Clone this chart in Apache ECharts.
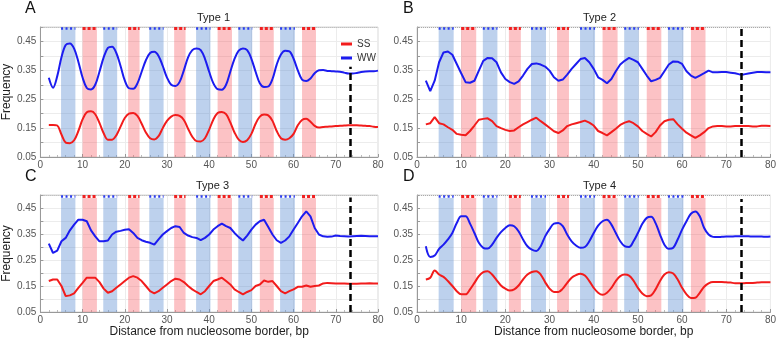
<!DOCTYPE html>
<html>
<head>
<meta charset="utf-8">
<script src="https://cdn.jsdelivr.net/npm/echarts@6/dist/echarts.min.js"></script>
<style>
  html, body { margin: 0; padding: 0; background: #fff; }
  #chart { width: 779px; height: 339px; }
</style>
</head>
<body>
<div id="chart"></div>
<script>
// positions along the sequence, bp
var xs = [];
for (var k = 2; k <= 80; k++) xs.push(k);

// Type 1
var wwA = [0.324,0.290,0.330,0.395,0.438,0.443,0.425,0.380,0.325,0.289,0.284,0.300,0.345,0.395,0.428,0.432,0.410,0.365,0.315,0.288,
  0.286,0.305,0.345,0.385,0.410,0.414,0.400,0.365,0.325,0.300,0.296,0.310,0.350,0.395,0.420,0.426,0.420,0.390,0.345,0.305,
  0.285,0.283,0.300,0.345,0.390,0.418,0.426,0.420,0.390,0.345,0.305,0.292,0.294,0.320,0.370,0.405,0.418,0.416,0.390,0.350,
  0.318,0.313,0.322,0.340,0.350,0.351,0.348,0.347,0.346,0.345,0.342,0.339,0.339,0.341,0.344,0.346,0.347,0.347,0.349];
var ssA = [0.161,0.161,0.159,0.128,0.100,0.098,0.108,0.140,0.180,0.205,0.208,0.198,0.168,0.132,0.110,0.110,0.125,0.155,0.185,0.200,
  0.202,0.192,0.165,0.135,0.115,0.111,0.122,0.150,0.175,0.190,0.195,0.192,0.178,0.148,0.120,0.105,0.104,0.115,0.145,0.180,
  0.202,0.206,0.198,0.170,0.135,0.110,0.102,0.108,0.130,0.165,0.190,0.197,0.194,0.175,0.140,0.115,0.110,0.115,0.130,0.160,
  0.178,0.182,0.172,0.158,0.152,0.154,0.155,0.156,0.157,0.158,0.159,0.160,0.160,0.160,0.159,0.158,0.157,0.155,0.154];

// Type 2
var wwB = [0.314,0.278,0.314,0.378,0.412,0.415,0.404,0.372,0.340,0.309,0.307,0.314,0.349,0.383,0.393,0.392,0.378,0.343,0.320,0.309,
  0.303,0.312,0.332,0.355,0.372,0.374,0.370,0.363,0.349,0.326,0.314,0.318,0.335,0.355,0.372,0.389,0.393,0.378,0.355,0.326,
  0.317,0.305,0.320,0.347,0.370,0.383,0.393,0.386,0.378,0.355,0.332,0.312,0.317,0.324,0.347,0.370,0.381,0.380,0.372,0.347,
  0.332,0.324,0.332,0.340,0.349,0.343,0.343,0.344,0.344,0.342,0.340,0.336,0.336,0.339,0.342,0.344,0.344,0.343,0.343];
var ssB = [0.163,0.167,0.188,0.167,0.163,0.153,0.144,0.130,0.127,0.125,0.140,0.159,0.179,0.182,0.184,0.174,0.157,0.150,0.144,0.140,
  0.142,0.153,0.163,0.171,0.179,0.186,0.174,0.163,0.151,0.139,0.133,0.142,0.157,0.163,0.167,0.171,0.176,0.169,0.159,0.140,
  0.133,0.125,0.136,0.148,0.161,0.169,0.174,0.167,0.156,0.140,0.130,0.121,0.136,0.159,0.174,0.179,0.181,0.163,0.148,0.134,
  0.125,0.116,0.125,0.136,0.150,0.156,0.157,0.157,0.156,0.156,0.157,0.157,0.157,0.157,0.156,0.156,0.158,0.158,0.157];

// Type 3
var wwC = [0.313,0.277,0.286,0.322,0.335,0.364,0.386,0.405,0.405,0.399,0.364,0.341,0.322,0.322,0.325,0.348,0.359,0.362,0.366,0.368,
  0.354,0.335,0.326,0.320,0.316,0.309,0.329,0.348,0.361,0.373,0.380,0.377,0.354,0.344,0.338,0.335,0.326,0.335,0.348,0.367,
  0.380,0.390,0.380,0.373,0.354,0.338,0.325,0.344,0.367,0.386,0.399,0.405,0.377,0.348,0.326,0.316,0.325,0.341,0.367,0.392,
  0.418,0.437,0.418,0.373,0.348,0.341,0.339,0.340,0.344,0.342,0.341,0.340,0.341,0.342,0.343,0.342,0.341,0.341,0.341];
var ssC = [0.169,0.175,0.175,0.150,0.111,0.114,0.122,0.143,0.162,0.182,0.182,0.182,0.165,0.140,0.124,0.130,0.143,0.156,0.169,0.182,
  0.188,0.182,0.169,0.150,0.130,0.122,0.130,0.143,0.156,0.169,0.178,0.175,0.165,0.150,0.137,0.127,0.118,0.130,0.150,0.169,
  0.175,0.182,0.169,0.156,0.137,0.127,0.118,0.127,0.134,0.150,0.156,0.171,0.166,0.169,0.150,0.130,0.122,0.130,0.137,0.147,
  0.147,0.152,0.147,0.150,0.152,0.160,0.162,0.161,0.160,0.160,0.160,0.159,0.159,0.159,0.160,0.160,0.161,0.160,0.160];

// Type 4
var wwD = [0.303,0.262,0.267,0.293,0.309,0.329,0.354,0.392,0.418,0.418,0.390,0.354,0.316,0.297,0.294,0.309,0.335,0.357,0.373,0.384,
  0.380,0.360,0.329,0.303,0.290,0.285,0.303,0.341,0.369,0.390,0.392,0.380,0.348,0.322,0.306,0.297,0.300,0.322,0.354,0.382,
  0.399,0.405,0.386,0.354,0.322,0.303,0.300,0.322,0.354,0.389,0.412,0.416,0.392,0.348,0.309,0.293,0.297,0.329,0.367,0.399,
  0.428,0.437,0.418,0.373,0.348,0.339,0.338,0.339,0.340,0.340,0.341,0.341,0.341,0.341,0.340,0.340,0.340,0.339,0.340];
var ssD = [0.175,0.182,0.210,0.194,0.185,0.169,0.150,0.130,0.118,0.118,0.137,0.162,0.188,0.203,0.207,0.194,0.173,0.152,0.140,0.133,
  0.137,0.152,0.175,0.194,0.204,0.207,0.194,0.165,0.140,0.127,0.127,0.140,0.162,0.182,0.192,0.197,0.190,0.169,0.143,0.124,
  0.116,0.124,0.143,0.169,0.188,0.194,0.190,0.171,0.143,0.121,0.111,0.114,0.137,0.169,0.194,0.203,0.198,0.175,0.143,0.118,
  0.104,0.105,0.124,0.147,0.160,0.165,0.165,0.165,0.164,0.163,0.161,0.161,0.161,0.162,0.162,0.163,0.164,0.164,0.164];

// WW-rich (blue) and SS-rich (red) stripes, bp
var blueBands = [[4.9, 8.3], [14.9, 18.2], [25.8, 29.2], [36.9, 40.3], [46.9, 50.2], [56.8, 60.3]];
var redBands = [[10.0, 13.4], [20.8, 23.5], [31.7, 34.4], [42.0, 45.4], [52.0, 55.3], [62.0, 65.3]];
var borderX = 73.5;

var RED = '#f21c1c', BLUE = '#1c1cf0';
var RED_BAND = 'rgba(245,80,90,0.35)', BLUE_BAND = 'rgba(90,140,210,0.4)';
var FONT = 'Liberation Sans, Arial, sans-serif';

var panels = [
  { letter: 'A', title: 'Type 1', ss: ssA, ww: wwA, grid: { left: 39, top: 27, width: 339, height: 130 }, smooth: 0.35, dashTop: 0.362, bandTop: 0.5, yName: true, xName: false },
  { letter: 'B', title: 'Type 2', ss: ssB, ww: wwB, grid: { left: 417, top: 27, width: 355, height: 130 }, smooth: false, dashTop: 0.5, bandTop: 0.5, yName: false, xName: false },
  { letter: 'C', title: 'Type 3', ss: ssC, ww: wwC, grid: { left: 37, top: 195, width: 341, height: 118 }, smooth: false, dashTop: 0.49, bandTop: 0.488, yName: true, xName: true },
  { letter: 'D', title: 'Type 4', ss: ssD, ww: wwD, grid: { left: 417, top: 195, width: 355, height: 118 }, smooth: 0.35, dashTop: 0.485, bandTop: 0.488, yName: false, xName: true }
];

function pairs(vals) {
  return xs.map(function (x, i) { return [x, vals[i]]; });
}

var grids = [], xAxes = [], yAxes = [], series = [], titles = [], graphics = [];

panels.forEach(function (p, i) {
  grids.push({ left: p.grid.left, top: p.grid.top, width: p.grid.width, height: p.grid.height,
    show: true, borderColor: '#d8d8d8', borderWidth: 1 });

  xAxes.push({
    gridIndex: i, type: 'value', min: 0, max: 80, interval: 10,
    name: p.xName ? 'Distance from nucleosome border, bp' : '',
    nameLocation: 'middle', nameGap: 14,
    nameTextStyle: { fontSize: 12, color: '#222', fontFamily: FONT },
    axisLine: { lineStyle: { color: '#999' } },
    axisTick: { inside: true, length: 3, lineStyle: { color: '#999' } },
    minorTick: { show: true, splitNumber: 5, length: 2, lineStyle: { color: '#bbb' } },
    axisLabel: { fontSize: 10, color: '#555', margin: 3, fontFamily: FONT },
    splitLine: { lineStyle: { color: '#ececec' } }
  });

  yAxes.push({
    gridIndex: i, type: 'value', min: 0.05, max: 0.5, interval: 0.05,
    name: p.yName ? 'Frequency' : '',
    nameLocation: 'middle', nameGap: 27,
    nameTextStyle: { fontSize: 12, color: '#222', fontFamily: FONT },
    axisLine: { lineStyle: { color: '#999' } },
    axisTick: { inside: true, length: 3, lineStyle: { color: '#999' } },
    axisLabel: {
      fontSize: 10, color: '#555', margin: 4, fontFamily: FONT,
      formatter: function (v) {
        var c = Math.round(v * 100);
        return c % 10 === 5 ? v.toFixed(2) : '';
      }
    },
    splitLine: { lineStyle: { color: '#ececec' } }
  });

  titles.push({
    text: p.title, left: p.grid.left + p.grid.width / 2, top: p.grid.top - 20, textAlign: 'center',
    textStyle: { fontSize: 11, fontWeight: 'normal', color: '#222', fontFamily: FONT }
  });

  graphics.push({
    type: 'text', left: p.letter === 'A' || p.letter === 'C' ? 25 : 403, top: p.grid.top - 26,
    style: { text: p.letter, fontSize: 16, fill: '#111', fontFamily: FONT }
  });

  series.push({
    name: 'SS', type: 'line', xAxisIndex: i, yAxisIndex: i, data: pairs(p.ss),
    showSymbol: false, smooth: p.smooth, z: 2,
    lineStyle: { width: 2, color: RED }, itemStyle: { color: RED }
  });
  series.push({
    name: 'WW', type: 'line', xAxisIndex: i, yAxisIndex: i, data: pairs(p.ww),
    showSymbol: false, smooth: p.smooth, z: 2,
    lineStyle: { width: 2, color: BLUE }, itemStyle: { color: BLUE }
  });

  var areas = [], lines = [];
  blueBands.forEach(function (b) {
    areas.push([{ xAxis: b[0], yAxis: 0.05, itemStyle: { color: BLUE_BAND } }, { xAxis: b[1], yAxis: p.bandTop }]);
  });
  redBands.forEach(function (b) {
    areas.push([{ xAxis: b[0], yAxis: 0.05, itemStyle: { color: RED_BAND } }, { xAxis: b[1], yAxis: p.bandTop }]);
  });
  // grey dotted top rule
  lines.push([{ coord: [0, 0.4995], lineStyle: { color: '#aaa', type: 'dotted', width: 1 } }, { coord: [80, 0.4995] }]);
  blueBands.forEach(function (b) {
    lines.push([{ coord: [b[0], 0.4965], lineStyle: { color: '#2a3cf0', type: [2, 2.5], width: 2.5 } }, { coord: [b[1], 0.4965] }]);
  });
  redBands.forEach(function (b) {
    lines.push([{ coord: [b[0], 0.4965], lineStyle: { color: '#f02020', type: [3, 2], width: 3 } }, { coord: [b[1], 0.4965] }]);
  });
  lines.push([{ coord: [borderX, 0.05], lineStyle: { color: '#000', type: [7, 4], width: 2.5 } }, { coord: [borderX, p.dashTop] }]);

  series.push({
    type: 'line', xAxisIndex: i, yAxisIndex: i, data: [], z: 5, silent: true,
    markArea: { silent: true, data: areas },
    markLine: { silent: true, symbol: 'none', label: { show: false }, data: lines }
  });
});

var chart = echarts.init(document.getElementById('chart'));
chart.setOption({
  animation: false,
  backgroundColor: '#fff',
  title: titles,
  grid: grids,
  xAxis: xAxes,
  yAxis: yAxes,
  legend: {
    data: ['SS', 'WW'], orient: 'vertical', left: 336, top: 34,
    icon: 'rect', itemWidth: 11, itemHeight: 3, itemGap: 4,
    textStyle: { fontSize: 10, color: '#333', fontFamily: FONT }
  },
  graphic: graphics,
  series: series
});
</script>
</body>
</html>
